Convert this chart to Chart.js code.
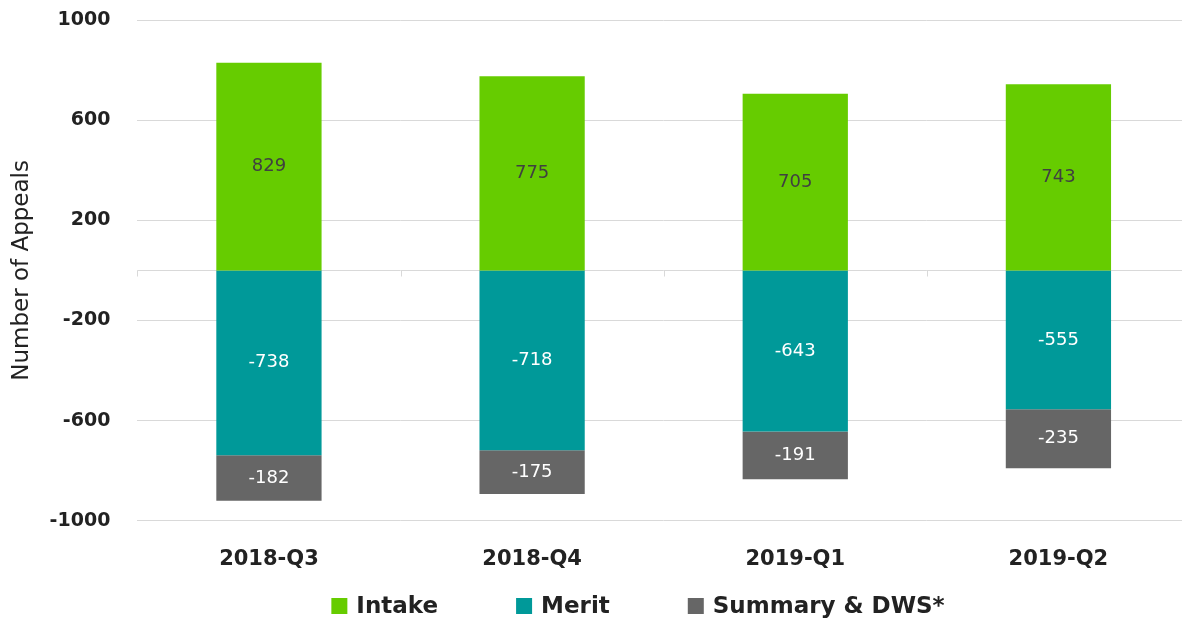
<!DOCTYPE html>
<html>
<head>
<meta charset="utf-8">
<script src="https://cdn.jsdelivr.net/npm/chart.js@4.4.1/dist/chart.umd.min.js"></script>
<style>
  html, body { margin: 0; padding: 0; overflow: hidden; background: #fff; }
  #wrap { width: 1190px; height: 620px; position: relative; }
</style>
</head>
<body>
<div id="wrap"><canvas id="chart-appeals"></canvas></div>
<script>
// quarterly appeals: intake above zero, outcomes stacked below
const quarters = ['2018-Q3', '2018-Q4', '2019-Q1', '2019-Q2'];
const intake = [829, 775, 705, 743];
const merit = [-738, -718, -643, -555];
const summaryDws = [-182, -175, -191, -235];
const yTicks = [-1000, -600, -200, 200, 600, 1000];

const FONT = 'DejaVu Sans';
const labelColors = ['#404040', '#ffffff', '#ffffff'];

// zero line with small tick marks between the categories
const zeroLine = {
    id: 'zeroLine',
    beforeDatasetsDraw(chart) {
        const {ctx, chartArea, scales: {x, y}} = chart;
        const y0 = Math.round(y.getPixelForValue(0)) + 0.5;
        ctx.save();
        ctx.strokeStyle = '#d9d9d9';
        ctx.lineWidth = 1;
        ctx.beginPath();
        ctx.moveTo(chartArea.left, y0);
        ctx.lineTo(chartArea.right, y0);
        for (let i = 0; i <= quarters.length; i++) {
            const bx = Math.round(x.getPixelForValue(i - 0.5)) + 0.5;
            ctx.moveTo(bx, y0);
            ctx.lineTo(bx, y0 + 6);
        }
        ctx.stroke();
        ctx.restore();
    }
};

// value labels in the middle of each segment
const barLabels = {
    id: 'barLabels',
    afterDatasetsDraw(chart) {
        const ctx = chart.ctx;
        ctx.save();
        ctx.font = '18px "' + FONT + '"';
        ctx.textAlign = 'center';
        ctx.textBaseline = 'middle';
        chart.data.datasets.forEach((ds, i) => {
            const meta = chart.getDatasetMeta(i);
            ctx.fillStyle = labelColors[i];
            meta.data.forEach((bar, j) => {
                const p = bar.getCenterPoint();
                ctx.fillText(String(ds.data[j]), p.x, p.y);
            });
        });
        ctx.restore();
    }
};

// legend drawn by hand so the gaps between items can be wide
const wideLegend = {
    id: 'wideLegend',
    afterDraw(chart) {
        const ctx = chart.ctx;
        const box = 16, textGap = 9, itemGap = 78, cx = 638, cy = 606;
        ctx.save();
        ctx.font = 'bold 23px "' + FONT + '"';
        ctx.textBaseline = 'middle';
        const items = chart.data.datasets.map(ds => ({
            text: ds.label,
            color: ds.backgroundColor,
            w: box + textGap + ctx.measureText(ds.label).width
        }));
        const total = items.reduce((s, it) => s + it.w, 0) + itemGap * (items.length - 1);
        let x = cx - total / 2;
        items.forEach(it => {
            ctx.fillStyle = it.color;
            ctx.fillRect(x, cy - box / 2, box, box);
            ctx.fillStyle = '#222222';
            ctx.fillText(it.text, x + box + textGap, cy + 1);
            x += it.w + itemGap;
        });
        ctx.restore();
    }
};

var ctx = document.getElementById('chart-appeals');
var chart = new Chart(ctx, {
    type: 'bar',
    data: {
        labels: quarters,
        datasets: [
            {
                label: 'Intake',
                data: intake,
                backgroundColor: '#66cc00',
                barPercentage: 0.4,
                categoryPercentage: 1
            },
            {
                label: 'Merit',
                data: merit,
                backgroundColor: '#009999',
                barPercentage: 0.4,
                categoryPercentage: 1
            },
            {
                label: 'Summary & DWS*',
                data: summaryDws,
                backgroundColor: '#666666',
                barPercentage: 0.4,
                categoryPercentage: 1
            }
        ]
    },
    options: {
        responsive: true,
        maintainAspectRatio: false,
        animation: false,
        layout: {
            padding: {top: 20, left: 0, right: 0, bottom: 22}
        },
        plugins: {
            legend: {display: false},
            tooltip: {enabled: false}
        },
        scales: {
            x: {
                stacked: true,
                grid: {display: false, drawTicks: false},
                border: {display: false},
                ticks: {
                    color: '#222222',
                    padding: 26,
                    font: {family: FONT, size: 21, weight: 'bold'}
                }
            },
            y: {
                stacked: true,
                min: -1000,
                max: 1000,
                afterBuildTicks: axis => {
                    axis.ticks = yTicks.map(v => ({value: v}));
                },
                grid: {color: '#d9d9d9', tickColor: 'rgba(0,0,0,0)', tickLength: 24},
                border: {display: false},
                ticks: {
                    color: '#222222',
                    padding: 3,
                    font: {family: FONT, size: 19, weight: 'bold'},
                    callback: v => String(v)
                },
                title: {
                    display: true,
                    text: 'Number of Appeals',
                    color: '#222222',
                    font: {family: FONT, size: 23},
                    padding: {top: 8, bottom: 11}
                }
            }
        }
    },
    plugins: [zeroLine, barLabels, wideLegend]
});
</script>
</body>
</html>
